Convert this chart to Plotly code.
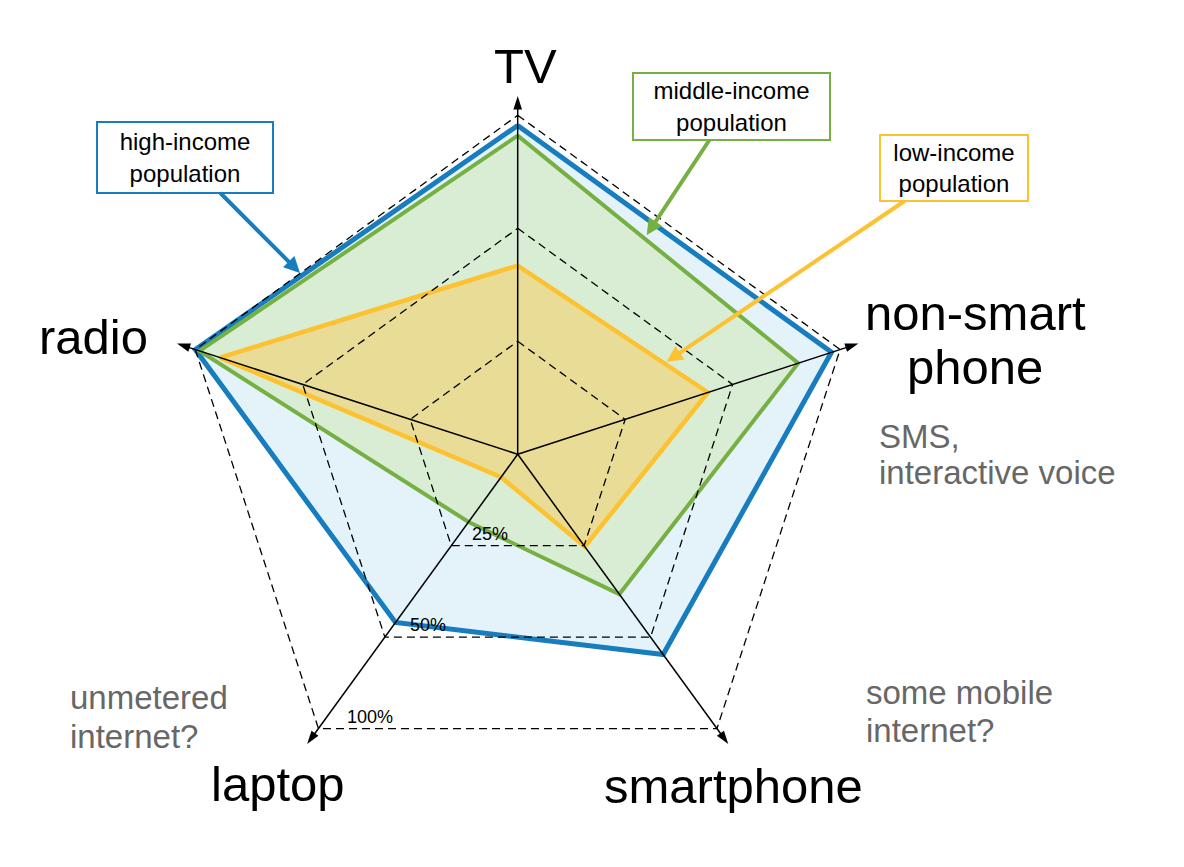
import math
import plotly.graph_objects as go

# ---------------- data ----------------
categories = ["TV", "non-smart phone", "smartphone", "laptop", "radio"]
high_income = [2.91, 2.92, 2.19, 1.84, 3.00]
middle_income = [2.82, 2.61, 1.53, 0.74, 2.96]
low_income = [1.67, 1.77, 1.01, 0.25, 2.77]
ring_values = [1, 2, 3]
ring_labels = ["25%", "50%", "100%"]
axis_end = 3.17

# ---------------- geometry ----------------
OFF = 8                        # page body margin
FW, FH = 1176, 859             # figure size
CX, CY = 517.7, 454.3          # polar centre in page pixels
UNIT = 113.0                   # pixels per radial unit
RMAX = 3.2
R = UNIT * RMAX
FONT = "Liberation Sans, Arial, sans-serif"

BLUE, BLUE_FILL = "#177dbf", "#e4f3fa"
GREEN, GREEN_FILL = "#76b043", "#d9edd4"
ORANGE, ORANGE_FILL = "#fcc232", "#e8dc96"


def closed(v):
    return list(v) + [v[0]]


theta_closed = closed(categories)
n = len(categories)

fig = go.Figure()

for vals, lc, fc, lw in [
    (high_income, BLUE, BLUE_FILL, 5),
    (middle_income, GREEN, GREEN_FILL, 4),
    (low_income, ORANGE, ORANGE_FILL, 4.5),
]:
    fig.add_trace(go.Scatterpolar(
        r=closed(vals), theta=theta_closed, mode="lines",
        fill="toself", fillcolor=fc,
        line=dict(color=lc, width=lw), hoverinfo="skip"))

# dashed rings
for rv in ring_values:
    fig.add_trace(go.Scatterpolar(
        r=[rv] * (n + 1), theta=theta_closed, mode="lines",
        line=dict(color="black", width=1.3, dash="8px,5px"), hoverinfo="skip"))

# spokes
for c in categories:
    fig.add_trace(go.Scatterpolar(
        r=[0, axis_end - 0.05], theta=[c, c], mode="lines",
        line=dict(color="black", width=1.5), hoverinfo="skip"))

# arrow heads
fig.add_trace(go.Scatterpolar(
    r=[axis_end] * n, theta=categories, mode="markers",
    marker=dict(symbol="arrow", size=14, color="black",
                angle=[360 * i / n for i in range(n)],
                line=dict(width=0)),
    hoverinfo="skip"))

# centre dot
fig.add_trace(go.Scatterpolar(
    r=[0], theta=[categories[0]], mode="markers",
    marker=dict(size=6, color="black"), hoverinfo="skip"))


def px(x, y):
    return (x - OFF) / FW, 1 - (y - OFF) / FH


def to_paper(r, i):
    a = math.radians(90 - 360 * i / n)
    return px(CX + r * UNIT * math.cos(a), CY - r * UNIT * math.sin(a))


annotations = []

# percent labels along the laptop axis
li = categories.index("laptop")
for rv, lab in zip(ring_values, ring_labels):
    x, y = to_paper(rv, li)
    annotations.append(dict(x=x, y=y, xref="paper", yref="paper", text=lab,
                            showarrow=False, xanchor="left", yanchor="bottom",
                            xshift=15 + 4 * rv, yshift=0,
                            font=dict(family=FONT, size=18, color="black")))

# big axis labels
big = [("TV", 525, 66), ("non-smart", 975, 313), ("phone", 975, 367),
       ("radio", 93, 337), ("laptop", 278, 784), ("smartphone", 733, 786)]
for t, x, y in big:
    xx, yy = px(x, y)
    annotations.append(dict(x=xx, y=yy, xref="paper", yref="paper", text=t,
                            showarrow=False, xanchor="center", yanchor="middle",
                            font=dict(family=FONT, size=49, color="black")))

# grey notes (one annotation per line)
notes = [("SMS,", 877, 436), ("interactive voice", 877, 472),
         ("some mobile", 864, 692), ("internet?", 864, 730),
         ("unmetered", 68, 697), ("internet?", 68, 736)]
for t, x, y in notes:
    xx, yy = px(x, y)
    annotations.append(dict(x=xx, y=yy, xref="paper", yref="paper", text=t,
                            showarrow=False, xanchor="left", yanchor="middle",
                            align="left",
                            font=dict(family=FONT, size=33, color="#676767")))

# boxed callouts with arrows
boxes = [("high-income<br>population", BLUE, (300, 273), (185, 157.5), 170, 65),
         ("middle-income<br>population", GREEN, (646.7, 235), (731.5, 106.5), 191, 61),
         ("low-income<br>population", ORANGE, (666.7, 361.7), (953.5, 168), 142, 60)]
for t, col, head, ctr, bw, bh in boxes:
    xx, yy = px(*head)
    annotations.append(dict(x=xx, y=yy, xref="paper", yref="paper", text=t,
                            showarrow=True, axref="pixel", ayref="pixel",
                            ax=ctr[0] - head[0], ay=ctr[1] - head[1],
                            arrowhead=2, arrowsize=0.8, arrowwidth=4,
                            arrowcolor=col, bordercolor=col, borderwidth=2,
                            borderpad=2, bgcolor="white", width=bw, height=bh,
                            align="center",
                            font=dict(family=FONT, size=24, color="black")))

dx0, dy0 = px(CX - R, CY + R)
dx1, dy1 = px(CX + R, CY - R)

fig.update_layout(
    width=FW, height=FH,
    margin=dict(l=0, r=0, t=0, b=0),
    paper_bgcolor="white",
    showlegend=False,
    polar=dict(
        domain=dict(x=[dx0, dx1], y=[dy0, dy1]),
        bgcolor="rgba(0,0,0,0)",
        gridshape="linear",
        radialaxis=dict(visible=False, range=[0, RMAX], showgrid=False),
        angularaxis=dict(rotation=90, direction="clockwise",
                         categoryorder="array", categoryarray=categories,
                         showgrid=False, showline=False, showticklabels=False,
                         ticks=""),
    ),
    annotations=annotations,
)

fig.write_html("out.html")
